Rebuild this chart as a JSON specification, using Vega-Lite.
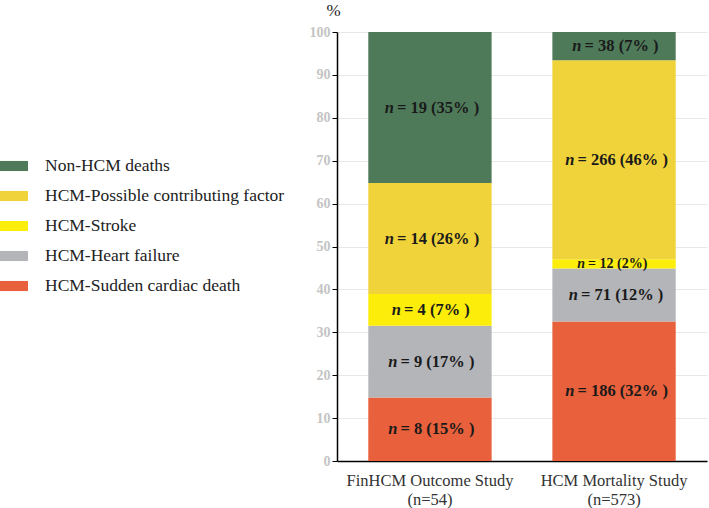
{
  "$schema": "https://vega.github.io/schema/vega-lite/v6.json",
  "width": 370,
  "height": 429,
  "autosize": "none",
  "padding": {"left": 337, "top": 32, "right": 2, "bottom": 47},
  "background": "white",
  "config": {
    "font": "Liberation Serif",
    "view": {"stroke": null}
  },
  "data": {
    "values": [
      {"study": "FinHCM Outcome Study|(n=54)", "cause": "HCM-Sudden cardiac death", "order": 1, "pct": 14.8, "rest": "= 8 (15% )"},
      {"study": "FinHCM Outcome Study|(n=54)", "cause": "HCM-Heart failure", "order": 2, "pct": 16.7, "rest": "= 9 (17% )"},
      {"study": "FinHCM Outcome Study|(n=54)", "cause": "HCM-Stroke", "order": 3, "pct": 7.4, "rest": "= 4 (7% )"},
      {"study": "FinHCM Outcome Study|(n=54)", "cause": "HCM-Possible contributing factor", "order": 4, "pct": 25.9, "rest": "= 14 (26% )"},
      {"study": "FinHCM Outcome Study|(n=54)", "cause": "Non-HCM deaths", "order": 5, "pct": 35.2, "rest": "= 19 (35% )"},
      {"study": "HCM Mortality Study|(n=573)", "cause": "HCM-Sudden cardiac death", "order": 1, "pct": 32.5, "rest": "= 186 (32% )"},
      {"study": "HCM Mortality Study|(n=573)", "cause": "HCM-Heart failure", "order": 2, "pct": 12.4, "rest": "= 71 (12% )"},
      {"study": "HCM Mortality Study|(n=573)", "cause": "HCM-Stroke", "order": 3, "pct": 2.1, "rest": "= 12 (2%)"},
      {"study": "HCM Mortality Study|(n=573)", "cause": "HCM-Possible contributing factor", "order": 4, "pct": 46.4, "rest": "= 266 (46% )"},
      {"study": "HCM Mortality Study|(n=573)", "cause": "Non-HCM deaths", "order": 5, "pct": 6.6, "rest": "= 38 (7% )"}
    ]
  },
  "transform": [
    {"stack": "pct", "groupby": ["study"], "sort": [{"field": "order", "order": "ascending"}], "as": ["y0", "y1"]},
    {"calculate": "(datum.y0 + datum.y1) / 2", "as": "ymid"}
  ],
  "encoding": {
    "x": {
      "field": "study",
      "type": "nominal",
      "sort": null,
      "scale": {"paddingInner": 0.33, "paddingOuter": 0.17},
      "axis": {
        "title": null,
        "labelAngle": 0,
        "ticks": false,
        "domainColor": "#000000",
        "domainWidth": 1.5,
        "labelExpr": "split(datum.label, '|')",
        "labelFont": "Liberation Serif",
        "labelFontSize": 16.5,
        "labelColor": "#333333",
        "labelPadding": 11,
        "labelLineHeight": 19,
        "labelBaseline": "top"
      }
    }
  },
  "layer": [
    {
      "mark": {"type": "bar"},
      "encoding": {
        "y": {
          "field": "y0",
          "type": "quantitative",
          "scale": {"domain": [0, 100], "nice": false},
          "axis": {
            "values": [0, 10, 20, 30, 40, 50, 60, 70, 80, 90, 100],
            "title": "%",
            "titleAngle": 0,
            "titleX": -4,
            "titleY": -22,
            "titleAlign": "center",
            "titleBaseline": "middle",
            "titleFontSize": 17,
            "titleFontWeight": "normal",
            "titleColor": "#222222",
            "titleFont": "Liberation Serif",
            "labelFont": "Liberation Serif",
            "labelFontSize": 14,
            "labelColor": "#c4c4c4",
            "labelFontWeight": "bold",
            "labelPadding": 2,
            "tickColor": "#000000",
            "tickSize": 5,
            "domainColor": "#000000",
            "domainWidth": 1.5,
            "gridColor": "#e8e8e8",
            "gridWidth": 1
          }
        },
        "y2": {"field": "y1"},
        "color": {
          "field": "cause",
          "type": "nominal",
          "scale": {
            "domain": ["Non-HCM deaths", "HCM-Possible contributing factor", "HCM-Stroke", "HCM-Heart failure", "HCM-Sudden cardiac death"],
            "range": ["#4f7a5a", "#f0d33a", "#fcee0a", "#b4b5b9", "#e8603c"]
          },
          "legend": {
            "title": null,
            "orient": "none",
            "legendX": -337,
            "legendY": 120,
            "padding": 0,
            "symbolType": "M-1,-0.36H1V0.36H-1Z",
            "symbolSize": 784,
            "symbolStrokeWidth": 0,
            "symbolOpacity": 1,
            "rowPadding": 7,
            "labelOffset": 17,
            "labelFont": "Liberation Serif",
            "labelFontSize": 17.5,
            "labelColor": "#222222",
            "labelLimit": 400
          }
        }
      }
    },
    {
      "mark": {"type": "text", "font": "Liberation Serif", "fontWeight": "bold", "fontStyle": "italic", "align": "right", "baseline": "middle", "color": "#1a1a1a", "dx": {"expr": "-length(datum.rest) * 3.55 + 3"}},
      "encoding": {
        "y": {"field": "ymid", "type": "quantitative"},
        "text": {"value": "n"},
        "size": {"condition": {"test": "datum.pct < 5", "value": 14}, "value": 16.5}
      }
    },
    {
      "mark": {"type": "text", "font": "Liberation Serif", "fontWeight": "bold", "align": "left", "baseline": "middle", "color": "#1a1a1a", "dx": {"expr": "-length(datum.rest) * 3.55 + 6"}},
      "encoding": {
        "y": {"field": "ymid", "type": "quantitative"},
        "text": {"field": "rest"},
        "size": {"condition": {"test": "datum.pct < 5", "value": 14}, "value": 16.5}
      }
    }
  ]
}
